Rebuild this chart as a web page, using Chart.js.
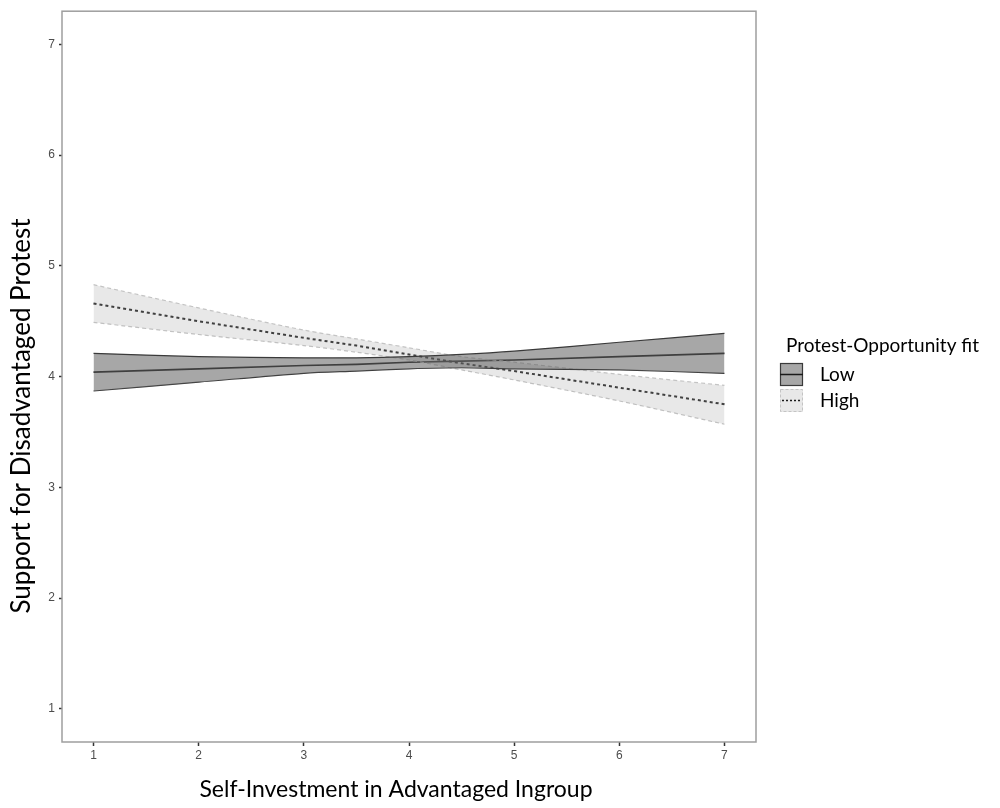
<!DOCTYPE html>
<html>
<head>
<meta charset="utf-8">
<title>Self-Investment x Protest-Opportunity fit</title>
<script src="https://cdn.jsdelivr.net/npm/chart.js@4/dist/chart.umd.min.js"></script>
<style>
  html, body { margin: 0; padding: 0; background: #ffffff; }
  #wrap { position: relative; width: 1000px; height: 808px; }
</style>
</head>
<body>
<div id="wrap"><canvas id="plot"></canvas></div>
<script>
(function () {
  "use strict";

  // ---- data (predicted values + 95% CI bands) ----
  const xs = [1, 2, 3, 3.5, 4, 4.5, 5, 6, 7];

  const lowFit   = [4.04, 4.07, 4.10, 4.11, 4.13, 4.14, 4.15, 4.18, 4.21];
  const lowUpper = [4.21, 4.18, 4.17, 4.17, 4.18, 4.20, 4.23, 4.31, 4.39];
  const lowLower = [3.87, 3.95, 4.03, 4.05, 4.07, 4.08, 4.07, 4.06, 4.03];

  const highFit   = [4.66, 4.50, 4.35, 4.28, 4.20, 4.12, 4.05, 3.90, 3.75];
  const highUpper = [4.83, 4.62, 4.42, 4.34, 4.26, 4.18, 4.13, 4.02, 3.92];
  const highLower = [4.49, 4.38, 4.28, 4.22, 4.15, 4.06, 3.97, 3.78, 3.57];

  const xTicks = [1, 2, 3, 4, 5, 6, 7];
  const yTicks = [1, 2, 3, 4, 5, 6, 7];

  const xTitle = "Self-Investment in Advantaged Ingroup";
  const yTitle = "Support for Disadvantaged Protest";
  const legendTitle = "Protest-Opportunity fit";
  const groups = ["Low", "High"];

  // Greyscale palette, close to the printed figure.
  const COLORS = {
    lowFill: "rgba(95,95,95,0.55)",
    lowEdge: "#3a3a3a",
    highFill: "rgba(170,170,170,0.27)",
    highEdge: "#c4c4c4",
    line: "#1a1a1a",
    frame: "#9e9e9e",
    tick: "#4d4d4d",
    tickMark: "#333333",
    title: "#000000",
  };

  const TEXT_FONT = "Lato, 'Open Sans', 'Noto Sans', sans-serif";
  const TICK_FONT = { family: "'Liberation Sans', Arial, sans-serif", size: 12 };

  function pts(ys) {
    return xs.map(function (x, i) { return { x: x, y: ys[i] }; });
  }

  function fixedTicks(values) {
    return function (scale) {
      scale.ticks = values.map(function (v) { return { value: v }; });
    };
  }

  // Panel frame (full box around the panel).
  const framePlugin = {
    id: "frame",
    afterDatasetsDraw: function (chart) {
      const a = chart.chartArea;
      const ctx = chart.ctx;
      ctx.save();
      ctx.strokeStyle = COLORS.frame;
      ctx.lineWidth = 1.5;
      ctx.strokeRect(a.left, a.top, a.right - a.left, a.bottom - a.top);
      ctx.restore();
    },
  };

  // Axis titles were re-set by hand in the figure, so they sit a little off centre.
  const titlesPlugin = {
    id: "axisTitles",
    afterDraw: function (chart) {
      const ctx = chart.ctx;
      ctx.save();
      ctx.fillStyle = COLORS.title;
      ctx.textAlign = "center";
      ctx.textBaseline = "middle";
      ctx.font = "23px " + TEXT_FONT;
      ctx.fillText(xTitle, 396, 790);
      ctx.translate(22, 416);
      ctx.rotate(-Math.PI / 2);
      ctx.font = "26px " + TEXT_FONT;
      ctx.fillText(yTitle, 0, 0);
      ctx.restore();
    },
  };

  // Legend at the right: title, then keys with ribbon + line.
  const legendPlugin = {
    id: "ribbonLegend",
    afterDraw: function (chart) {
      const ctx = chart.ctx;
      ctx.save();
      ctx.fillStyle = COLORS.title;
      ctx.textBaseline = "middle";
      ctx.textAlign = "left";
      ctx.font = "19px " + TEXT_FONT;
      ctx.fillText(legendTitle, 786, 346);

      const keyX = 780, keyW = 23, keyH = 23;
      const rows = [363, 389];

      // Low key
      ctx.fillStyle = "#ffffff";
      ctx.fillRect(keyX, rows[0], keyW, keyH);
      ctx.fillStyle = COLORS.lowFill;
      ctx.fillRect(keyX, rows[0], keyW, keyH);
      ctx.strokeStyle = COLORS.lowEdge;
      ctx.lineWidth = 1.2;
      ctx.strokeRect(keyX + 0.5, rows[0] + 0.5, keyW - 1, keyH - 1);
      ctx.strokeStyle = COLORS.line;
      ctx.lineWidth = 1.5;
      ctx.beginPath();
      ctx.moveTo(keyX, rows[0] + keyH / 2);
      ctx.lineTo(keyX + keyW, rows[0] + keyH / 2);
      ctx.stroke();

      // High key
      ctx.fillStyle = COLORS.highFill;
      ctx.fillRect(keyX, rows[1], keyW, keyH);
      ctx.strokeStyle = COLORS.highEdge;
      ctx.lineWidth = 1;
      ctx.setLineDash([3, 2]);
      ctx.strokeRect(keyX + 0.5, rows[1] + 0.5, keyW - 1, keyH - 1);
      ctx.strokeStyle = COLORS.line;
      ctx.lineWidth = 1.5;
      ctx.setLineDash([2, 2]);
      ctx.beginPath();
      ctx.moveTo(keyX + 2, rows[1] + keyH / 2);
      ctx.lineTo(keyX + keyW - 2, rows[1] + keyH / 2);
      ctx.stroke();
      ctx.setLineDash([]);

      ctx.fillStyle = COLORS.title;
      ctx.font = "19px " + TEXT_FONT;
      ctx.fillText(groups[0], 820, rows[0] + keyH / 2);
      ctx.fillText(groups[1], 820, rows[1] + keyH / 2);
      ctx.restore();
    },
  };

  function band(data, fillColor, edgeColor, dash, target) {
    return {
      data: pts(data),
      borderColor: edgeColor,
      borderWidth: 1.2,
      borderDash: dash,
      backgroundColor: fillColor,
      pointRadius: 0,
      tension: 0.3,
      fill: target == null ? false : target,
    };
  }

  const ctx = document.getElementById("plot").getContext("2d");
  new Chart(ctx, {
    type: "line",
    data: {
      datasets: [
        band(lowUpper, COLORS.lowFill, COLORS.lowEdge, [], 1),
        band(lowLower, COLORS.lowFill, COLORS.lowEdge, [], null),
        band(highUpper, COLORS.highFill, COLORS.highEdge, [4, 3], 3),
        band(highLower, COLORS.highFill, COLORS.highEdge, [4, 3], null),
        {
          label: groups[0],
          data: pts(lowFit),
          borderColor: COLORS.line,
          borderWidth: 1.6,
          pointRadius: 0,
          fill: false,
        },
        {
          label: groups[1],
          data: pts(highFit),
          borderColor: COLORS.line,
          borderWidth: 2,
          borderDash: [3, 3],
          pointRadius: 0,
          fill: false,
        },
      ],
    },
    options: {
      responsive: true,
      maintainAspectRatio: false,
      animation: false,
      events: [],
      layout: { padding: { left: 0, top: 10, right: 244, bottom: 0 } },
      plugins: { legend: { display: false }, tooltip: { enabled: false } },
      scales: {
        x: {
          type: "linear",
          min: 0.7,
          max: 7.3,
          afterBuildTicks: fixedTicks(xTicks),
          afterFit: function (s) { s.height = 66; },
          border: { display: false },
          grid: { drawOnChartArea: false, drawTicks: true, tickLength: 4, tickColor: COLORS.tickMark, tickWidth: 1.5 },
          ticks: { color: COLORS.tick, font: TICK_FONT, padding: 2, maxRotation: 0 },
        },
        y: {
          type: "linear",
          min: 0.7,
          max: 7.3,
          afterBuildTicks: fixedTicks(yTicks),
          afterFit: function (s) { s.width = 62; },
          border: { display: false },
          grid: { drawOnChartArea: false, drawTicks: true, tickLength: 3, tickColor: COLORS.tickMark, tickWidth: 1.5 },
          ticks: { color: COLORS.tick, font: TICK_FONT, padding: 4 },
        },
      },
    },
    plugins: [framePlugin, titlesPlugin, legendPlugin],
  });
})();
</script>
</body>
</html>
